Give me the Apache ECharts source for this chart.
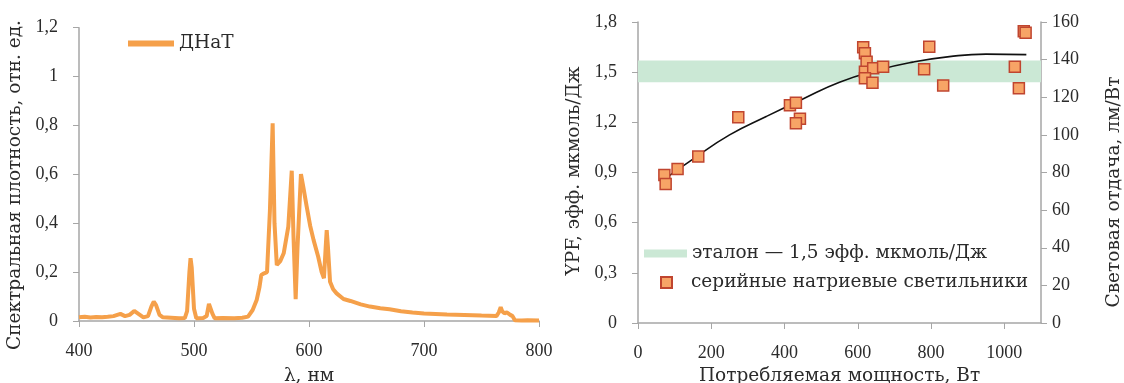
<!DOCTYPE html>
<html><head><meta charset="utf-8">
<script src="https://cdn.jsdelivr.net/npm/echarts@6/dist/echarts.min.js"></script>
<style>html,body{margin:0;padding:0;background:#fff}#c{width:1124px;height:383px}</style>
</head><body><div id="c"></div>
<script>
// ---- Left chart: spectrum of ДНаТ lamp ----
const lambda = [400,405,410,415,420,425,430,436,440,444,448,452,456,460,463,465,467,470,473,480,487,492,494,496,497,498,500,502,508,511,513,514,516,518,525,535,542,547,551,554.5,557,558.5,561,563.5,566,568.4,570,572,575,578,582,585,586.5,588.4,590,593,595,598,601,604,608,611,613,614.5,615.4,616.5,618.3,621,624,630,636,645,653,662,670,680,690,700,710,720,735,750,763,765,766.7,768,770,772,775,777,779,785,790,800];
const intensity = [0.015,0.017,0.014,0.016,0.015,0.017,0.02,0.029,0.02,0.025,0.041,0.028,0.015,0.02,0.06,0.079,0.065,0.025,0.015,0.013,0.011,0.012,0.04,0.2,0.257,0.22,0.05,0.011,0.012,0.02,0.07,0.072,0.03,0.011,0.012,0.011,0.013,0.018,0.045,0.086,0.14,0.188,0.195,0.2,0.45,0.809,0.4,0.229,0.245,0.277,0.386,0.615,0.35,0.089,0.3,0.601,0.55,0.468,0.39,0.331,0.263,0.2,0.175,0.3,0.372,0.3,0.161,0.13,0.113,0.09,0.082,0.068,0.059,0.052,0.048,0.04,0.035,0.031,0.029,0.027,0.025,0.022,0.02,0.035,0.056,0.04,0.031,0.035,0.025,0.02,0.003,0.002,0.003,0.002];
const specYTicks = ['0','0,2','0,4','0,6','0,8','1','1,2'];

// ---- Right chart: YPF vs power ----
const powerW = [72,75.5,108,164.5,273.7,414.7,431,442,431,614.7,619.4,624,619.4,642,669,619.4,640,795,781,833,1028.6,1039.6,1053,1058];
const ypf = [0.885,0.831,0.921,0.995,1.230,1.302,1.317,1.222,1.194,1.649,1.613,1.563,1.503,1.523,1.533,1.463,1.437,1.652,1.517,1.421,1.533,1.404,1.745,1.735];
const trendX = [72,150,250,350,450,550,650,750,850,950,1060];
const trendY = [0.86,0.98,1.125,1.235,1.34,1.44,1.51,1.56,1.593,1.608,1.605];
const bandLow = 1.44, bandHigh = 1.57;
const powerTicks = ['0','200','400','600','800','1000'];
const ypfTicks = ['0','0,3','0,6','0,9','1,2','1,5','1,8'];
const lmTicks = ['0','20','40','60','80','100','120','140','160'];

const specName = 'ДНаТ';
const bandName = 'эталон — 1,5 эфф. мкмоль/Дж';
const seriesName = 'серийные натриевые светильники';

const numFont = 'Liberation Serif';
const txtFont = 'DejaVu Serif';
const txtSize = 18.5;
const axisGrey = '#A6A6A6';
const textCol = '#2b2b2b';

function lbl(arr, step){ return v => { const i = Math.round(v/step); return (Math.abs(i*step - v) < 1e-6 && arr[i] !== undefined) ? arr[i] : ''; }; }

const chart = echarts.init(document.getElementById('c'), null, {renderer:'canvas'});
chart.setOption({
  animation:false,
  backgroundColor:'#fff',
  grid:[
    {left:79, top:27.7, width:460, height:293.3, containLabel:false, outerBoundsMode:'none'},
    {left:638, top:22, width:403, height:301, containLabel:false, outerBoundsMode:'none'}
  ],
  legend:[
    {data:[{name:specName, icon:'rect'}], left:128, top:34, padding:0, itemWidth:46, itemHeight:6, itemGap:5,
     textStyle:{fontFamily:txtFont, fontSize:txtSize, color:textCol}},
    {data:[{name:bandName, icon:'rect'}], left:644, top:244, padding:0, itemWidth:43, itemHeight:8,
     textStyle:{fontFamily:txtFont, fontSize:txtSize, color:textCol}},
    {data:[{name:seriesName, icon:'path://M0,0L10,0L10,10L0,10Z'}], left:660, top:273, padding:0, itemWidth:11, itemHeight:11,
     textStyle:{fontFamily:txtFont, fontSize:txtSize, color:textCol, padding:[0,0,0,14]}}
  ],
  xAxis:[
    {gridIndex:0, type:'value', min:400, max:800, interval:100,
     axisLine:{lineStyle:{color:axisGrey, width:1.5}}, axisTick:{show:true, length:6, lineStyle:{color:axisGrey}},
     splitLine:{show:false},
     axisLabel:{margin:21, fontFamily:numFont, fontSize:18, color:textCol, formatter:v=>String(v)},
     name:'λ, нм', nameLocation:'middle', nameGap:46, nameTextStyle:{fontFamily:txtFont, fontSize:txtSize, color:textCol}},
    {gridIndex:1, type:'value', min:0, max:1100, interval:200,
     axisLine:{lineStyle:{color:axisGrey, width:1.5}}, axisTick:{show:true, length:6, lineStyle:{color:axisGrey}},
     splitLine:{show:false},
     axisLabel:{margin:21, fontFamily:numFont, fontSize:18, color:textCol, formatter:lbl(powerTicks,200), showMaxLabel:false},
     name:'Потребляемая мощность, Вт', nameLocation:'middle', nameGap:44, nameTextStyle:{fontFamily:txtFont, fontSize:txtSize, color:textCol}}
  ],
  yAxis:[
    {gridIndex:0, type:'value', min:0, max:1.2, interval:0.2,
     axisLine:{show:true, lineStyle:{color:axisGrey, width:1.5}}, axisTick:{show:true, length:6, lineStyle:{color:axisGrey}},
     splitLine:{show:false},
     axisLabel:{margin:21, fontFamily:numFont, fontSize:18, color:textCol, formatter:lbl(specYTicks,0.2)}},
    {gridIndex:1, type:'value', min:0, max:1.8, interval:0.3, position:'left',
     axisLine:{show:true, lineStyle:{color:axisGrey, width:1.5}}, axisTick:{show:true, length:6, lineStyle:{color:axisGrey}},
     splitLine:{show:false},
     axisLabel:{margin:21, fontFamily:numFont, fontSize:18, color:textCol, formatter:lbl(ypfTicks,0.3)}},
    {gridIndex:1, type:'value', min:0, max:160, interval:20, position:'right',
     axisLine:{show:true, lineStyle:{color:axisGrey, width:1.5}}, axisTick:{show:true, length:6, lineStyle:{color:axisGrey}},
     splitLine:{show:false},
     axisLabel:{margin:11, fontFamily:numFont, fontSize:18, color:textCol, formatter:lbl(lmTicks,20)}}
  ],
  graphic:[
    {type:'text', x:15, y:185, rotation:Math.PI/2, style:{text:'Спектральная плотность, отн. ед.', font:txtSize+'px "DejaVu Serif"', fill:textCol, textAlign:'center', textVerticalAlign:'middle'}},
    {type:'text', x:574, y:171, rotation:Math.PI/2, style:{text:'YPF, эфф. мкмоль/Дж', font:txtSize+'px "DejaVu Serif"', fill:textCol, textAlign:'center', textVerticalAlign:'middle'}},
    {type:'text', x:1114, y:192, rotation:Math.PI/2, style:{text:'Световая отдача, лм/Вт', font:txtSize+'px "DejaVu Serif"', fill:textCol, textAlign:'center', textVerticalAlign:'middle'}}
  ],
  series:[
    {name:specName, type:'line', xAxisIndex:0, yAxisIndex:0, showSymbol:false, symbol:'none',
     data:lambda.map((l,i)=>[l,intensity[i]]), lineStyle:{color:'#F5A04A', width:4}, itemStyle:{color:'#F5A04A'}},
    {name:bandName, type:'line', xAxisIndex:1, yAxisIndex:1, symbol:'none', data:[],
     itemStyle:{color:'#CBE8D5'}, lineStyle:{color:'#CBE8D5'},
     markArea:{silent:true, itemStyle:{color:'#CBE8D5'}, data:[[{yAxis:bandLow},{yAxis:bandHigh}]]}},
    {name:'trend', type:'line', xAxisIndex:1, yAxisIndex:1, symbol:'none', smooth:true,
     data:trendX.map((x,i)=>[x,trendY[i]]), lineStyle:{color:'#111', width:1.6}, z:3},
    {name:seriesName, type:'scatter', xAxisIndex:1, yAxisIndex:1, symbol:'rect', symbolSize:11,
     data:powerW.map((x,i)=>[x,ypf[i]]), itemStyle:{color:'#F7A466', borderColor:'#C0452F', borderWidth:1.5, opacity:1}, z:4}
  ]
});
</script></body></html>
